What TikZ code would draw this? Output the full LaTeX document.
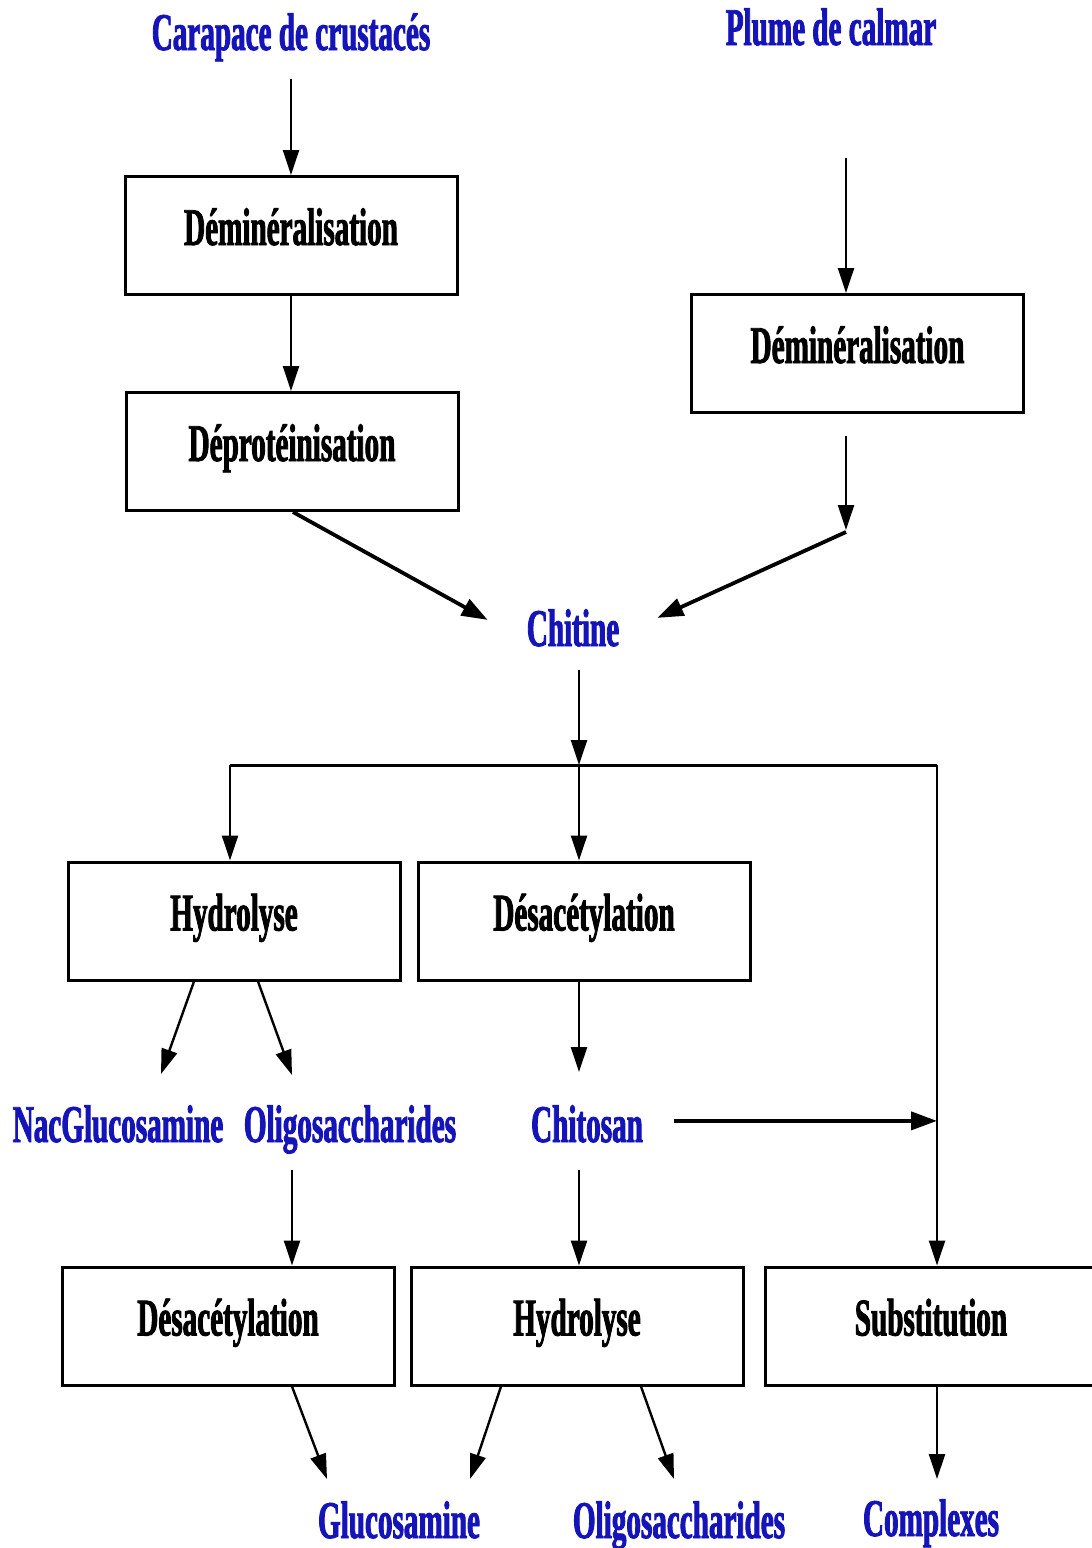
\documentclass[tikz,border=0pt]{standalone}
\usepackage{fontspec}
\setmainfont{Liberation Serif}
\newfontfamily\narrowbold{Liberation Serif}[FakeStretch=0.55, UprightFont=*-Bold, FakeBold=1.6]
\usetikzlibrary{arrows.meta,calc}
\definecolor{prodblue}{RGB}{20,20,185}

\begin{document}
\begin{tikzpicture}[x=1pt,y=-1pt,
  labelfont/.style={font=\narrowbold\fontsize{53}{60}\selectfont},
  stepbox/.style={draw, line width=3pt, labelfont, minimum width=332pt,
    minimum height=118pt, inner sep=0pt, text height=35pt, text depth=16pt},
  prod/.style={labelfont, text=prodblue, inner sep=0pt, anchor=base},
  arr/.style={line width=2.4pt, -{Triangle[length=25pt,width=16pt]}},
  arrthick/.style={line width=3.8pt, -{Triangle[length=26pt,width=18pt]}},
  joinline/.style={line width=3pt}]

\fill[white] (0,0) rectangle (1092,1548);
\useasboundingbox (0,0) rectangle (1092,1548);

% raw materials and first steps
\node[prod] (carapace) at (291,50) {Carapace de crustacés};
\node[prod] (plume) at (831,45) {Plume de calmar};
\node[stepbox] (b1) at (291,235.5) {Déminéralisation};
\node[stepbox] (b2) at (292,451.5) {Déprotéinisation};
\node[stepbox] (b3) at (857.5,353.5) {Déminéralisation};
\node[prod] (chitine) at (573,646) {Chitine};

\coordinate (bend) at (846,530);
\coordinate (split) at (579,765);
\coordinate (leftsplit) at (230,765);
\coordinate (right) at (937,765);

% second level
\node[stepbox] (b4) at (234,921) {Hydrolyse};
\node[stepbox] (b5) at (584,921) {Désacétylation};
\node[prod] (nac) at (118,1142) {NacGlucosamine};
\node[prod] (oligoA) at (350,1142) {Oligosaccharides};
\node[prod] (chitosan) at (587,1142) {Chitosan};
\coordinate (oligoout) at (292,1170);

% third level
\node[stepbox] (b6) at (228,1326) {Désacétylation};
\node[stepbox] (b7) at (577,1326) {Hydrolyse};
\node[stepbox] (b8) at (931,1326) {Substitution};
\node[prod] (gluco) at (399,1538) {Glucosamine};
\node[prod] (oligoB) at (679,1538) {Oligosaccharides};
\node[prod] (complexes) at (931,1536) {Complexes};

% connectors, top part
\draw[arr, shorten <=18pt] (carapace.south -| b1.north) -- (b1.north);
\draw[arr] (b1.south) -- (b1.south |- b2.north);
\draw[arrthick] ($(b2.south)+(1,0)$) -- ($(chitine.west)+(-39,-8)$);
\draw[arr, shorten <=112pt] (plume.south -| bend) -- (b3.north -| bend);
\draw[arr, shorten <=22pt] (b3.south -| bend) -- (bend);
\draw[arrthick] ($(bend)+(0,2)$) -- ($(chitine.east)+(38,-10)$);
\draw[arr, shorten <=23pt] (chitine.south -| split) -- (split);

% distribution line
\draw[joinline] (leftsplit) -- (right);
\draw[arr] (leftsplit) -- (leftsplit |- b4.north);
\draw[arr] (split) -- (split |- b5.north);
\draw[arr] (right) -- (right |- b8.north);

% connectors, middle part
\draw[arr] ($(b4.south)+(-40,0)$) -- ($(nac.north)+(43,-31)$);
\draw[arr] ($(b4.south)+(24,0)$) -- ($(oligoA.north)+(-58,-30)$);
\draw[arr, shorten >=33pt] (b5.south -| split) -- (chitosan.north -| split);
\draw[arrthick, shorten <=31pt] ($(chitosan.east)+(0,-3)$) -- ($(chitosan.east -| right)+(0,-3)$);
\draw[arr] (oligoout) -- (oligoout |- b6.north);
\draw[arr, shorten <=27pt] (chitosan.south -| split) -- (split |- b7.north);

% connectors, bottom part
\draw[arr] ($(b6.south)+(64,0)$) -- ($(gluco.north)+(-72,-22)$);
\draw[arr] ($(b7.south)+(-76,0)$) -- ($(gluco.north)+(71,-22)$);
\draw[arr] ($(b7.south)+(64,0)$) -- ($(oligoB.north)+(-5,-22)$);
\draw[arr, shorten >=20pt] (b8.south -| right) -- (complexes.north -| right);
\end{tikzpicture}
\end{document}
